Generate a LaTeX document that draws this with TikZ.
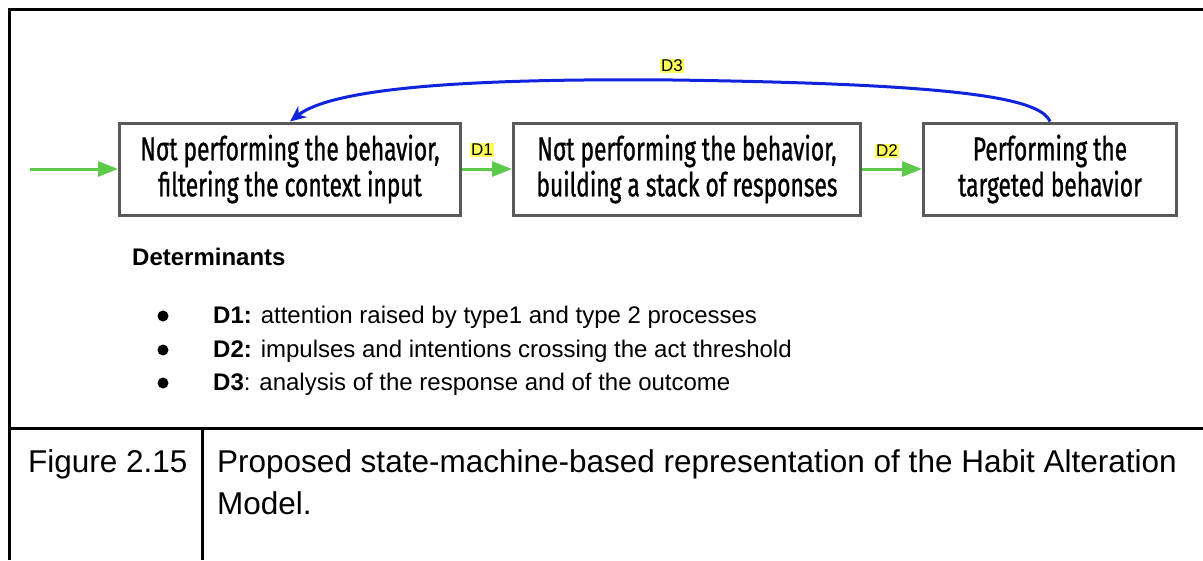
\documentclass[tikz,border=0pt]{standalone}
\usepackage{fontspec}
\setmainfont{Liberation Sans}
\newfontfamily\boxfont[FakeStretch=0.69,FakeBold=0.8]{Fira Sans}
\usetikzlibrary{arrows.meta}
\definecolor{arrowgreen}{RGB}{92,201,74}
\definecolor{loopblue}{RGB}{16,36,222}
\definecolor{boxgray}{RGB}{90,90,90}
\definecolor{labelyellow}{RGB}{255,255,90}
\begin{document}
\begin{tikzpicture}[x=1pt,y=-1pt,
  statebox/.style={draw=boxgray,line width=3pt,fill=white,align=center,
    font=\boxfont\fontsize{33}{36}\selectfont,inner sep=0pt,minimum height=92pt},
  garrow/.style={draw=arrowgreen,line width=3pt,-{Triangle[length=20pt,width=15pt]}},
  barrow/.style={draw=loopblue,line width=3pt,-{Stealth[length=16pt,width=14pt,inset=5pt]}},
  dlabel/.style={fill=labelyellow,inner sep=1.2pt,font=\fontsize{17}{17}\selectfont},
  frameline/.style={line width=3pt,black},
  listtext/.style={anchor=base west,inner sep=0pt,font=\fontsize{24}{28}\selectfont},
  captext/.style={anchor=base west,inner sep=0pt,font=\fontsize{31.5}{42}\selectfont}]
\useasboundingbox (0,0) rectangle (1203,560);
% frame
\draw[frameline] (9,560) -- (9,9) -- (1203,9);
\draw[frameline] (9,428) -- (1203,428);
\draw[frameline] (202,428) -- (202,560);
% states
\node[statebox,minimum width=341pt] (s1) at (290,169) {Nσt performing the behavior,\\filtering the context input};
\node[statebox,minimum width=347pt] (s2) at (687,169) {Nσt performing the behavior,\\building a stack of responses};
\node[statebox,minimum width=253pt] (s3) at (1050,169) {Performing the\\targeted behavior};
\coordinate (entry) at (30,169);
% transitions
\draw[garrow] (entry) -- (s1.west);
\draw[garrow] (s1.east) -- (s2.west);
\draw[garrow] (s2.east) -- (s3.west);
\draw[barrow] (s3.north) .. controls (1040,98) and (960,84) .. (673,80)
  .. controls (450,78) and (330,90) .. (s1.north);
\node[dlabel] (d1) at (482,150) {D1};
\node[dlabel] (d2) at (887,151) {D2};
\node[dlabel] (d3) at (672,66) {D3};
% determinants
\node[listtext,font=\bfseries\fontsize{24}{28}\selectfont] (det) at (132,265) {Determinants};
\fill (163,316) circle (5.5pt);
\fill (163,350) circle (5.5pt);
\fill (163,383) circle (5.5pt);
\node[listtext] (l1) at (213,323) {\textbf{D1:} attention raised by type1 and type 2 processes};
\node[listtext] (l2) at (213,357) {\textbf{D2:} impulses and intentions crossing the act threshold};
\node[listtext] (l3) at (213,390) {\textbf{D3}: analysis of the response and of the outcome};
% caption row
\node[captext] (fig) at (28,472) {Figure 2.15};
\node[captext] (cap1) at (217,472) {Proposed state-machine-based representation of the Habit Alteration};
\node[captext] (cap2) at (217,514) {Model.};
\end{tikzpicture}
\end{document}
